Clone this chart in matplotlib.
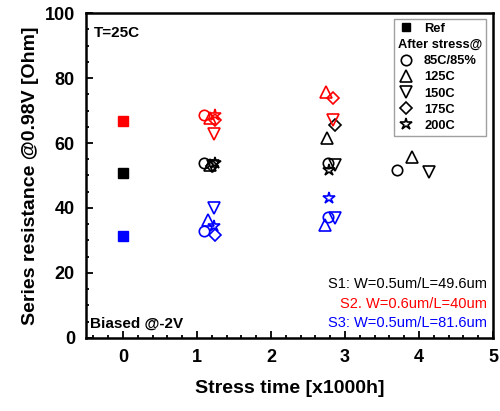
import matplotlib
matplotlib.use("Agg")
import matplotlib.pyplot as plt
from matplotlib.lines import Line2D
from matplotlib.ticker import MultipleLocator

plt.rcParams['font.family'] = ['Liberation Sans', 'DejaVu Sans']

# ---- data ----
series_names = ["S1: W=0.5um/L=49.6um", "S2. W=0.6um/L=40um", "S3: W=0.5um/L=81.6um"]
series_colors = ["black", "red", "blue"]
ref_x = [0, 0, 0]
ref_y = [50.8, 66.8, 31.4]

conditions = ["85C/85%", "125C", "150C", "175C", "200C"]
cond_markers = ["o", "^", "v", "D", "*"]

s1_x = [[1.09, 2.77, 3.70], [1.17, 2.75, 3.91], [1.22, 2.86, 4.14], [1.20, 2.86], [1.24, 2.78]]
s1_y = [[53.9, 53.7, 51.7], [53.2, 61.4, 55.8], [53.0, 53.2, 51.2], [52.8, 65.5], [53.8, 51.7]]
s2_x = [[1.10], [1.17, 2.74], [1.23, 2.84], [1.24, 2.84], [1.24]]
s2_y = [[68.6], [67.6, 75.6], [62.7, 67.1], [67.0, 73.9], [68.6]]
s3_x = [[1.10, 2.77], [1.15, 2.73], [1.23, 2.86], [1.24], [1.23, 2.78]]
s3_y = [[32.9, 37.3], [36.3, 34.6], [39.9, 36.8], [31.7], [34.3, 43.0]]

xticks = [0, 1, 2, 3, 4, 5]
yticks = [0, 20, 40, 60, 80, 100]

fig = plt.figure(figsize=(5.0, 4.11), dpi=100)
ax = fig.add_axes([0.172, 0.178, 0.814, 0.79])

msizes = {"o": 7.5, "^": 8, "v": 8, "D": 6.5, "*": 9}

# reference squares
for xv, yv, c in zip(ref_x, ref_y, series_colors):
    ax.plot([xv], [yv], linestyle="none", marker="s", ms=6.5, color=c, mec=c)

for xs, ys, c in [(s1_x, s1_y, "black"), (s2_x, s2_y, "red"), (s3_x, s3_y, "blue")]:
    for xx, yy, m in zip(xs, ys, cond_markers):
        ax.plot(xx, yy, linestyle="none", marker=m, ms=msizes[m], mfc="none",
                mec=c, mew=1.2)

ax.set_xlim(-0.5, 5)
ax.set_ylim(0, 100)
ax.set_xticks(xticks)
ax.set_yticks(yticks)
ax.xaxis.set_minor_locator(MultipleLocator(0.2))
ax.yaxis.set_minor_locator(MultipleLocator(5))
ax.tick_params(which="both", direction="in", top=False, right=False, width=1.3)
ax.tick_params(which="major", length=5, labelsize=13, pad=8)
ax.tick_params(which="minor", length=2.5)
for lab in ax.get_xticklabels() + ax.get_yticklabels():
    lab.set_fontweight("bold")
for sp in ax.spines.values():
    sp.set_linewidth(1.8)

ax.set_xlabel("Stress time [x1000h]", fontsize=14, fontweight="bold", labelpad=10)
ax.set_ylabel("Series resistance @0.98V [Ohm]", fontsize=14, fontweight="bold", labelpad=4)

ax.text(0.02, 0.94, "T=25C", transform=ax.transAxes, fontsize=11, fontweight="bold", va="center")
ax.text(0.01, 0.045, "Biased @-2V", transform=ax.transAxes, fontsize=11, fontweight="bold", va="center")
for i, (name, c) in enumerate(zip(series_names, series_colors)):
    ax.text(0.985, 0.165 - i * 0.06, name, transform=ax.transAxes, fontsize=10.5,
            color=c, ha="right", va="center")

# legend
handles = [Line2D([], [], linestyle="none", marker="s", ms=6, color="black"),
           Line2D([], [], linestyle="none")]
labels = ["Ref", "After stress@"]
for cname, m in zip(conditions, cond_markers):
    handles.append(Line2D([], [], linestyle="none", marker=m, ms=msizes[m], mfc="none",
                          mec="black", mew=1.2))
    labels.append(cname)
leg = ax.legend(handles, labels, loc="upper right", bbox_to_anchor=(0.99, 0.99),
                prop={"weight": "bold", "size": 9.3}, frameon=True, fancybox=False,
                edgecolor="#888888", handlelength=1.2, handletextpad=0.8,
                labelspacing=0.32, borderpad=0.3, borderaxespad=0.2)
leg.get_frame().set_linewidth(1.0)
# make "After stress@" row span the handle column
try:
    col = leg._legend_handle_box.get_children()[0]
    row = col.get_children()[1]
    kids = row.get_children()
    kids.pop(0)
except Exception:
    pass

fig.savefig("out.png", dpi=100)
